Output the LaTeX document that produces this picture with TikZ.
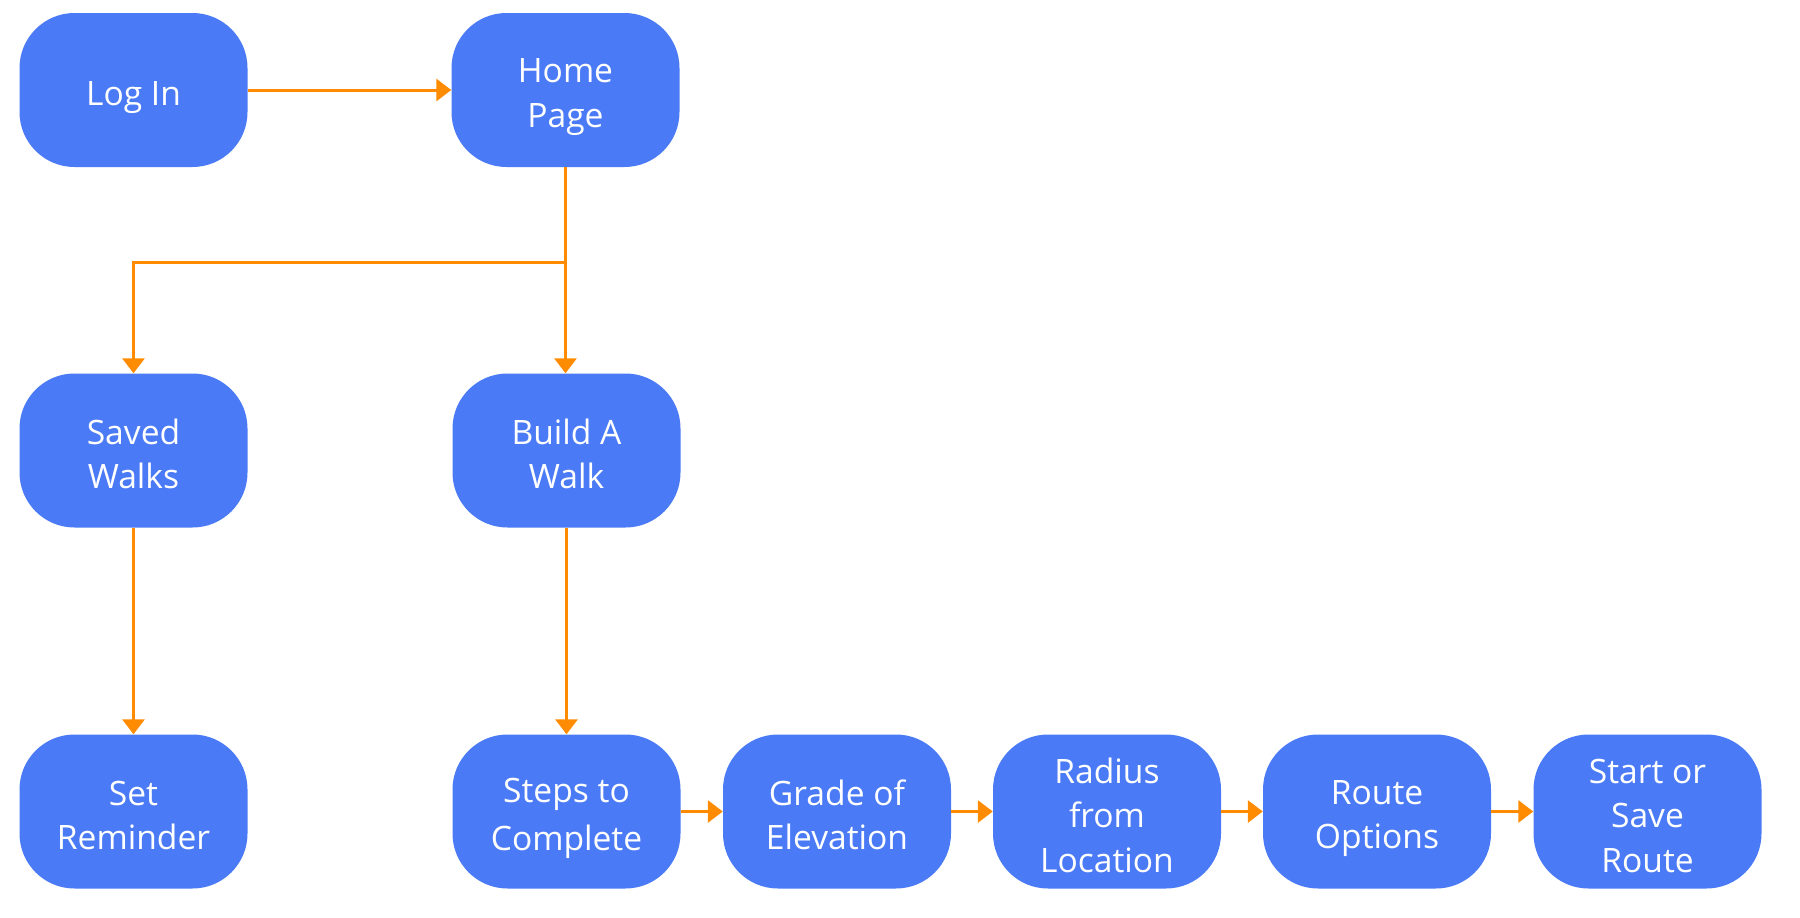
\documentclass[tikz,border=0pt]{standalone}
\usepackage{fontspec}
\setmainfont{Open Sans}
\usetikzlibrary{arrows.meta,calc}
\definecolor{boxblue}{HTML}{4A7AF5}
\definecolor{arrorange}{HTML}{FF8C00}
\newcommand{\bs}{\rule[-6.25pt]{0pt}{44.5pt}}
\begin{document}
\begin{tikzpicture}[x=1pt,y=-1pt,
  box/.style={fill=boxblue, rounded corners=55pt, minimum width=228pt, minimum height=154pt,
    inner sep=0pt, text=white, align=center, font=\fontsize{33.6}{44.5}\selectfont},
  conn/.style={draw=arrorange, line width=3pt, -{Triangle[length=15pt,width=22pt]}}]
\fill[white] (0,0) rectangle (1800,918);
\useasboundingbox (0,0) rectangle (1800,918);
\node[box] (login)  at (133.5,90)    {\bs Log In\bs};
\node[box] (home)   at (565.5,90)    {\bs Home\\Page\bs};
\node[box] (saved)  at (133.5,450.5) {\bs Saved\\Walks\bs};
\node[box] (build)  at (566.5,450.5) {\bs Build A\\Walk\bs};
\node[box] (remind) at (133.5,811.5) {\bs Set\\Reminder\bs};
\node[box] (steps)  at (566.5,811.5) {\bs Steps to\\Complete\bs};
\node[box] (grade)  at (837,811.5)   {\bs Grade of\\Elevation\bs};
\node[box] (radius) at (1107,811.5)  {\bs Radius\\from\\Location\bs};
\node[box] (route)  at (1377,811.5)  {\bs Route\\Options\bs};
\node[box] (start)  at (1647.5,811.5){\bs Start or\\Save\\Route\bs};
\coordinate (split) at ($(home.south)+(0,95)$);
\draw[conn] (login) -- (home);
\draw[conn] (home.south) -- (home.south |- build.north);
\draw[conn] (home.south) -- (split) -| (saved.north);
\draw[conn] (saved) -- (remind);
\draw[conn] (build) -- (steps);
\draw[conn] (steps) -- (grade);
\draw[conn] (grade) -- (radius);
\draw[conn] (radius) -- (route);
\draw[conn] (route) -- (start);
\end{tikzpicture}
\end{document}
